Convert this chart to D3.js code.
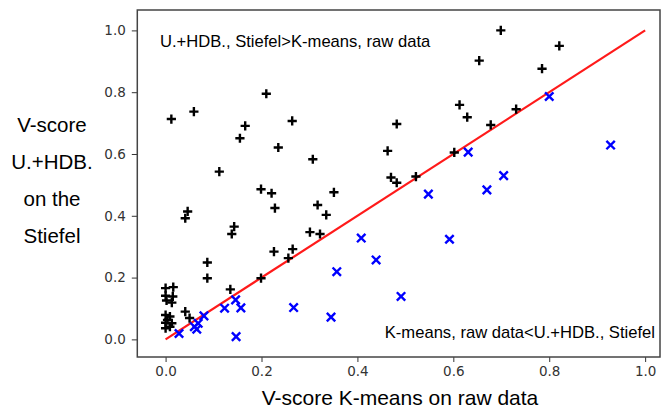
<!DOCTYPE html>
<html><head><meta charset="utf-8">
<script src="https://cdn.jsdelivr.net/npm/d3@7"></script>
<style>body{margin:0;background:#fff}svg{display:block}</style>
</head><body>
<svg id="chart" width="664" height="412"></svg>
<script>
// Data: above-diagonal (black plus) and below-diagonal (blue x)
const plusX = [0.012,0.059,0.210,0.166,0.155,0.264,0.235,0.307,0.112,0.199,0.221,0.351,0.482,0.463,0.470,0.482,
  0.699,0.821,0.654,0.785,0.613,0.629,0.731,0.678,0.602,0.522,
  0.228,0.317,0.335,0.301,0.322,0.226,0.265,0.256,0.199,0.046,0.041,0.143,0.138,0.087,0.087,0.135,0.041,0.050,
  0.000,0.016,0.000,0.015,0.002,0.013,0.000,0.009,0.004,0.000,0.013,0.000,0.009];
const plusY = [0.713,0.737,0.795,0.691,0.651,0.707,0.621,0.583,0.543,0.486,0.473,0.476,0.697,0.610,0.524,0.507,
  1.000,0.950,0.902,0.876,0.759,0.719,0.745,0.694,0.605,0.527,
  0.425,0.435,0.403,0.347,0.341,0.284,0.292,0.263,0.198,0.414,0.392,0.365,0.341,0.249,0.198,0.162,0.090,0.069,
  0.166,0.169,0.141,0.139,0.126,0.119,0.079,0.074,0.063,0.054,0.052,0.036,0.041];
const crossX = [0.800,0.928,0.631,0.548,0.705,0.670,0.592,0.491,0.028,0.060,0.065,0.068,0.080,0.123,0.146,0.157,0.147,0.267,0.345,0.357,0.408,0.439];
const crossY = [0.786,0.629,0.606,0.470,0.530,0.484,0.324,0.139,0.019,0.041,0.033,0.052,0.076,0.101,0.128,0.102,0.009,0.103,0.072,0.219,0.328,0.257];
const diagonal = [0, 1];
const xTicks = [0.0, 0.2, 0.4, 0.6, 0.8, 1.0];
const yTicks = [0.0, 0.2, 0.4, 0.6, 0.8, 1.0];
const xLabel = "V-score K-means on raw data";
const yLabelLines = ["V-score", "U.+HDB.", "on the", "Stiefel"];
const noteTop = "U.+HDB., Stiefel>K-means, raw data";
const noteBottom = "K-means, raw data<U.+HDB., Stiefel";

const svg = d3.select("#chart");
const L = 137.3, R = 660, T = 10, B = 357;
const x = d3.scaleLinear().domain([-0.059, 1.031]).range([L, R]);
const y = d3.scaleLinear().domain([-0.057, 1.066]).range([B, T]);

// axes
const xAxis = svg.append("g").attr("transform", `translate(0,${B})`)
  .call(d3.axisBottom(x).tickValues(xTicks).tickFormat(d3.format(".1f")).tickSize(5).tickPadding(4));
const yAxis = svg.append("g").attr("transform", `translate(${L},0)`)
  .call(d3.axisLeft(y).tickValues(yTicks).tickFormat(d3.format(".1f")).tickSize(5.5).tickPadding(6));
[xAxis, yAxis].forEach(g => {
  g.select(".domain").remove();
  g.selectAll(".tick line").attr("stroke", "#333").attr("stroke-width", 1);
  g.selectAll(".tick text").attr("fill", "#333").style("font-family", "DejaVu Sans")
   .style("font-size", "13.5px");
});

// frame
svg.append("rect").attr("x", L).attr("y", T).attr("width", R - L).attr("height", B - T)
  .attr("fill", "none").attr("stroke", "#444").attr("stroke-width", 1.5);

// diagonal
svg.append("line").attr("x1", x(diagonal[0])).attr("y1", y(diagonal[0]))
  .attr("x2", x(diagonal[1])).attr("y2", y(diagonal[1]))
  .attr("stroke", "#ff1a1a").attr("stroke-width", 2.2);

// plus markers
const plusData = plusX.map((v, i) => [v, plusY[i]]);
const ph = 4.6;
svg.append("g").selectAll("path").data(plusData).join("path")
  .attr("d", d => `M${x(d[0]) - ph},${y(d[1])}H${x(d[0]) + ph}M${x(d[0])},${y(d[1]) - ph}V${y(d[1]) + ph}`)
  .attr("stroke", "#000").attr("stroke-width", 2.4).attr("fill", "none");

// cross markers
const crossData = crossX.map((v, i) => [v, crossY[i]]);
const ch = 4.2;
svg.append("g").selectAll("path").data(crossData).join("path")
  .attr("d", d => `M${x(d[0]) - ch},${y(d[1]) - ch}L${x(d[0]) + ch},${y(d[1]) + ch}M${x(d[0]) - ch},${y(d[1]) + ch}L${x(d[0]) + ch},${y(d[1]) - ch}`)
  .attr("stroke", "#0000ff").attr("stroke-width", 2.4).attr("fill", "none");

// annotations
const txtFont = "Liberation Sans, Arial, sans-serif";
svg.append("text").attr("x", 160).attr("y", 47).text(noteTop)
  .style("font-family", txtFont).style("font-size", "16.6px").attr("fill", "#000");
svg.append("text").attr("x", 655).attr("y", 338).attr("text-anchor", "end").text(noteBottom)
  .style("font-family", txtFont).style("font-size", "16.6px").attr("fill", "#000");

// axis labels
svg.append("text").attr("x", 400).attr("y", 405).attr("text-anchor", "middle").text(xLabel)
  .style("font-family", txtFont).style("font-size", "21px").attr("fill", "#000");
svg.append("g").selectAll("text").data(yLabelLines).join("text")
  .attr("x", 52).attr("y", (d, i) => 132 + i * 37).attr("text-anchor", "middle").text(d => d)
  .style("font-family", txtFont).style("font-size", "20.5px").attr("fill", "#000");
</script>
</body></html>
